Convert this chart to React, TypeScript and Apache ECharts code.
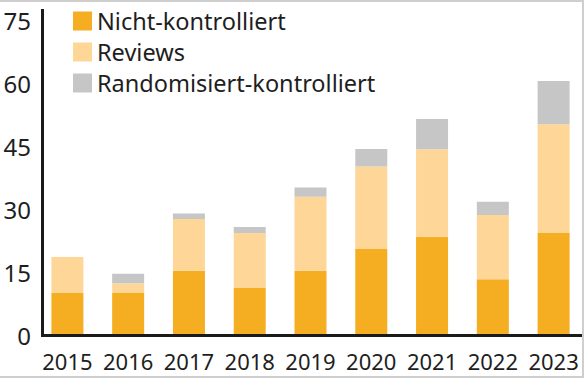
import React, { useEffect, useRef } from "react";
import * as echarts from "echarts";

const years = ["2015", "2016", "2017", "2018", "2019", "2020", "2021", "2022", "2023"];
const nichtKontrolliert = [10, 10, 15.3, 11.3, 15.3, 20.5, 23.4, 13.3, 24.4];
const reviews = [8.6, 2.3, 12.3, 13, 17.6, 19.6, 20.8, 15.3, 25.8];
const randomisiert = [0, 2.3, 1.3, 1.4, 2.2, 4.2, 7.2, 3.1, 10.3];
const seriesNames = ["Nicht-kontrolliert", "Reviews", "Randomisiert-kontrolliert"];
const yTicks = { min: 0, max: 75, interval: 15 };

const FONT = "'Noto Sans', 'Open Sans', sans-serif";
const TEXT = "#1e1e1e";

export default function App() {
  const ref = useRef<HTMLDivElement>(null);
  useEffect(() => {
    if (!ref.current) return;
    const chart = echarts.init(ref.current, undefined, { renderer: "svg" });
    const colors = ["#F5AD22", "#FDD698", "#C6C6C6"];
    const data = [nichtKontrolliert, reviews, randomisiert];
    chart.setOption({
      animation: false,
      backgroundColor: "#ffffff",
      grid: { left: 37, top: 20, width: 554, height: 315, containLabel: false },
      legend: {
        orient: "vertical",
        left: 68,
        top: 4,
        itemWidth: 19,
        itemHeight: 19,
        itemGap: 7,
        icon: "rect",
        data: seriesNames,
        textStyle: {
          fontFamily: FONT,
          fontSize: 23.5,
          color: TEXT,
        },
      },
      xAxis: {
        type: "category",
        data: years,
        axisLine: { show: false },
        axisTick: { show: false },
        axisLabel: {
          interval: 0,
          fontFamily: FONT,
          fontSize: 22,
          color: TEXT,
          margin: 15,
        },
      },
      yAxis: {
        type: "value",
        min: yTicks.min,
        max: yTicks.max,
        interval: yTicks.interval,
        offset: -6,
        splitLine: { show: false },
        axisLine: { show: false },
        axisTick: { show: false },
        axisLabel: {
          fontFamily: FONT,
          fontSize: 24,
          color: TEXT,
          margin: 12,
        },
      },
      series: seriesNames.map((name, i) => ({
        name,
        type: "bar",
        stack: "total",
        barWidth: 32,
        itemStyle: { color: colors[i] },
        data: data[i],
      })),
      graphic: [
        {
          type: "line",
          z: 100,
          shape: { x1: 42.5, y1: 9, x2: 42.5, y2: 337 },
          style: { stroke: "#1a1a1a", lineWidth: 3 },
        },
        {
          type: "line",
          z: 100,
          shape: { x1: 41, y1: 335.5, x2: 582, y2: 335.5 },
          style: { stroke: "#1a1a1a", lineWidth: 3 },
        },
        {
          type: "line",
          z: 100,
          shape: { x1: 0, y1: 1, x2: 584, y2: 1 },
          style: { stroke: "#cfcfcf", lineWidth: 2 },
        },
        {
          type: "line",
          z: 100,
          shape: { x1: 583, y1: 0, x2: 583, y2: 377 },
          style: { stroke: "#cfcfcf", lineWidth: 2 },
        },
        {
          type: "line",
          z: 100,
          shape: { x1: 0, y1: 377, x2: 584, y2: 377 },
          style: { stroke: "#cfcfcf", lineWidth: 2 },
        },
      ],
    });
    return () => chart.dispose();
  }, []);
  return (
    <div
      ref={ref}
      style={{ position: "fixed", left: 0, top: 0, width: 584, height: 380 }}
    />
  );
}
